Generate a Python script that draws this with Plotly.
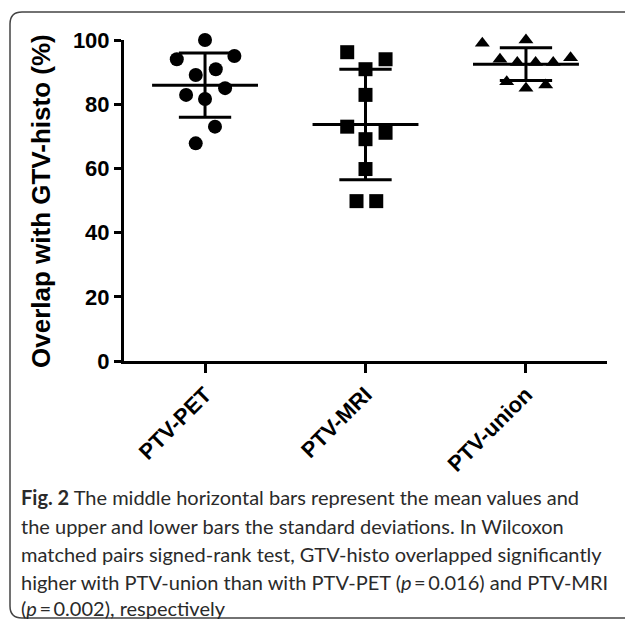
import numpy as np
import plotly.graph_objects as go

# ---------------- data ----------------
categories = ["PTV-PET", "PTV-MRI", "PTV-union"]
pet_values = [100, 94, 95, 89.1, 90.9, 85, 82.9, 81.6, 73, 67.8]
mri_values = [96.2, 94, 90.9, 82.9, 73, 71.1, 69.1, 59.8, 49.8, 49.8]
union_values = [99, 100, 94, 93, 93, 93, 94.5, 87, 85, 86]
# horizontal scatter offsets (category units) as drawn in the figure
pet_jitter = [0.0, -0.176, 0.183, -0.058, 0.067, 0.125, -0.118, 0.0, 0.062, -0.058]
mri_jitter = [-0.114, 0.125, 0.0, 0.0, -0.114, 0.125, 0.0, 0.0, -0.056, 0.067]
union_jitter = [-0.272, 0.0, -0.162, -0.054, 0.06, 0.17, 0.278, -0.12, 0.0, 0.123]
y_ticks = [0, 20, 40, 60, 80, 100]
y_title = "Overlap with GTV-histo (%)"
caption_lines = [
    "<b>Fig. 2</b> The middle horizontal bars represent the mean values and",
    "the upper and lower bars the standard deviations. In Wilcoxon",
    "matched pairs signed-rank test, GTV-histo overlapped significantly",
    "higher with PTV-union than with PTV-PET (<i>p</i>\u2009=\u20090.016) and PTV-MRI",
    "(<i>p</i>\u2009=\u20090.002), respectively",
]

# ---------------- layout geometry (pixels) ----------------
W, H = 625, 624
L, R, T, B = 124, 607, 40, 361


def px(x):
    return (x - L) / (R - L)


def py(y):
    return (B - y) / (B - T)


groups = [
    (pet_values, pet_jitter, "circle", 14),
    (mri_values, mri_jitter, "square", 14),
    (union_values, union_jitter, "triangle-up", 13),
]

fig = go.Figure()
MEAN_HW = 0.33
SD_HW = 0.163
for i, (vals, jit, sym, size) in enumerate(groups):
    v = np.array(vals, dtype=float)
    m = v.mean()
    sd = v.std(ddof=1)
    fig.add_trace(go.Scatter(
        x=[i + j for j in jit], y=vals, mode="markers",
        marker=dict(symbol=sym, size=size, color="black", line=dict(width=0)),
        cliponaxis=False, showlegend=False, hoverinfo="y"))
    lx = [i - MEAN_HW, i + MEAN_HW, None, i - SD_HW, i + SD_HW, None,
          i - SD_HW, i + SD_HW, None, i, i]
    ly = [m, m, None, m + sd, m + sd, None, m - sd, m - sd, None, m - sd, m + sd]
    fig.add_trace(go.Scatter(
        x=lx, y=ly, mode="lines", line=dict(color="black", width=3),
        cliponaxis=False, showlegend=False, hoverinfo="skip"))

axis_font = dict(family="Liberation Sans, Arial", size=22, color="black", weight="bold")

fig.update_xaxes(
    range=[-0.505, 2.505], tickvals=[0, 1, 2], ticktext=categories,
    tickangle=-45, ticks="outside", ticklen=9, tickwidth=3, tickcolor="black",
    showline=True, linewidth=3, linecolor="black", showgrid=False, zeroline=False,
    tickfont=axis_font)
fig.update_yaxes(
    range=[0, 100], tickvals=y_ticks, ticks="outside", ticklen=7, tickwidth=3,
    tickcolor="black", showline=True, linewidth=3, linecolor="black",
    showgrid=False, zeroline=False, tickfont=axis_font)

annotations = [dict(
    text=y_title, xref="paper", yref="paper", x=px(41), y=py(201),
    xanchor="center", yanchor="middle", textangle=-90, showarrow=False,
    font=dict(family="Liberation Sans, Arial", size=26, color="black", weight="bold"))]

cap_y = [497, 526, 554, 582, 608]
for txt, yy in zip(caption_lines, cap_y):
    annotations.append(dict(
        text=txt, xref="paper", yref="paper", x=px(19), y=py(yy),
        xanchor="left", yanchor="middle", showarrow=False, align="left",
        font=dict(family="Lato", size=20, color="#2a2a2a")))

# rounded border
bl, bt, br, bb, rr = 10, 12, 660, 618, 12
path = (f"M {px(bl)},{py(bt + rr)} Q {px(bl)},{py(bt)} {px(bl + rr)},{py(bt)} "
        f"L {px(br)},{py(bt)} L {px(br)},{py(bb)} L {px(bl + rr)},{py(bb)} "
        f"Q {px(bl)},{py(bb)} {px(bl)},{py(bb - rr)} Z")
shapes = [dict(type="path", path=path, xref="paper", yref="paper",
               line=dict(color="#444444", width=1.5), fillcolor="rgba(0,0,0,0)",
               layer="below")]

fig.update_layout(
    width=W, height=H, autosize=False,
    margin=dict(l=L, r=W - R, t=T, b=H - B, pad=0),
    paper_bgcolor="white", plot_bgcolor="white",
    annotations=annotations, shapes=shapes, showlegend=False)

fig.write_html("out.html", config={"displayModeBar": False},
               post_script="document.body.style.margin='0px';document.body.style.overflow='hidden';")
